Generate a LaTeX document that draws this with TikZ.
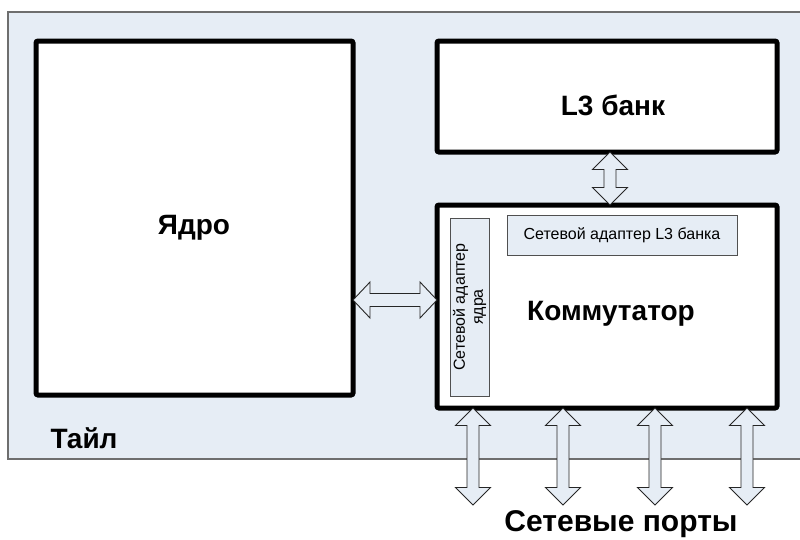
\documentclass[tikz,border=0pt]{standalone}
\usepackage{fontspec}
\setmainfont{Liberation Sans}
\usetikzlibrary{calc}
\definecolor{tilebg}{HTML}{E6EDF5}
\definecolor{tileline}{HTML}{6E6E6E}
\definecolor{adline}{HTML}{505050}
\tikzset{
  bigbox/.style={draw=black, line width=5pt, fill=white, rounded corners=2pt},
  adapter/.style={draw=adline, line width=0.9pt, fill=tilebg},
  bigtext/.style={font=\bfseries\fontsize{28}{32}\selectfont},
  smalltext/.style={font=\fontsize{16}{18}\selectfont},
  dblarrow/.style={draw=black!85, line width=0.9pt, fill=tilebg, line join=miter},
}
% horizontal double arrow between two points: half head width 18, half shaft 6.5, head length 17
\newcommand{\harrow}[2]{%
  \draw[dblarrow] let \p1=#1, \p2=#2 in
    (\x1,\y1) -- (\x1+17pt,\y1+18pt) -- (\x1+17pt,\y1+6.5pt) -- (\x2-17pt,\y2+6.5pt)
    -- (\x2-17pt,\y2+18pt) -- (\x2,\y2) -- (\x2-17pt,\y2-18pt) -- (\x2-17pt,\y2-6.5pt)
    -- (\x1+17pt,\y1-6.5pt) -- (\x1+17pt,\y1-18pt) -- cycle;}
% vertical double arrow (from top point #1 to bottom point #2)
\newcommand{\varrow}[2]{%
  \draw[dblarrow] let \p1=#1, \p2=#2 in
    (\x1,\y1) -- (\x1+17.5pt,\y1-17.5pt) -- (\x1+6pt,\y1-17.5pt) -- (\x2+6pt,\y2+17.5pt)
    -- (\x2+17.5pt,\y2+17.5pt) -- (\x2,\y2) -- (\x2-17.5pt,\y2+17.5pt) -- (\x2-6pt,\y2+17.5pt)
    -- (\x1-6pt,\y1-17.5pt) -- (\x1-17.5pt,\y1-17.5pt) -- cycle;}
\begin{document}
\begin{tikzpicture}[x=1pt,y=-1pt]
\useasboundingbox (0,0) rectangle (800,539);
\clip (0,0) rectangle (800,539);
\fill[white] (0,0) rectangle (800,539);
% tile
\draw[draw=tileline, line width=1.3pt, fill=tilebg] (8,12) rectangle (820,459);
\node[bigtext, anchor=center] (tile) at (84,438) {Тайл};
% core
\draw[bigbox] (36,41) rectangle (353,395);
\coordinate (coreE) at (353,300);
\node[bigtext] (core) at (194,228) {Ядро};
% L3 bank
\draw[bigbox] (437,41) rectangle (777,152);
\coordinate (l3S) at (610,152);
\node[bigtext] (l3) at (613,105) {L3 банк};
% switch
\draw[bigbox] (437,205) rectangle (777,408);
\coordinate (swN) at (610,205);
\coordinate (swW) at (437,300);
\node[bigtext] (sw) at (611,314) {Коммутатор};
% adapters
\node[adapter, minimum width=230pt, minimum height=40pt, inner sep=0pt] (l3ad) at (622,235) {};
\node[smalltext] (l3adt) at (l3ad) {Сетевой адаптер L3 банка};
\node[adapter, minimum width=39pt, minimum height=178pt, inner sep=0pt] (coread) at (469.5,307) {};
\node[smalltext, rotate=90, align=center] (coreadt) at (coread) {Сетевой адаптер\\ядра};
% arrows
\harrow{(coreE)}{(swW)}
\varrow{(l3S)}{(swN)}
\foreach \i/\x in {1/473,2/563,3/655,4/747}{
  \coordinate (top\i) at (\x,408);
  \coordinate (port\i) at (\x,505);
  \varrow{(top\i)}{(port\i)}
}
\node[font=\bfseries\fontsize{30}{34}\selectfont] (ports) at (621,524) {Сетевые порты};
\end{tikzpicture}
\end{document}
